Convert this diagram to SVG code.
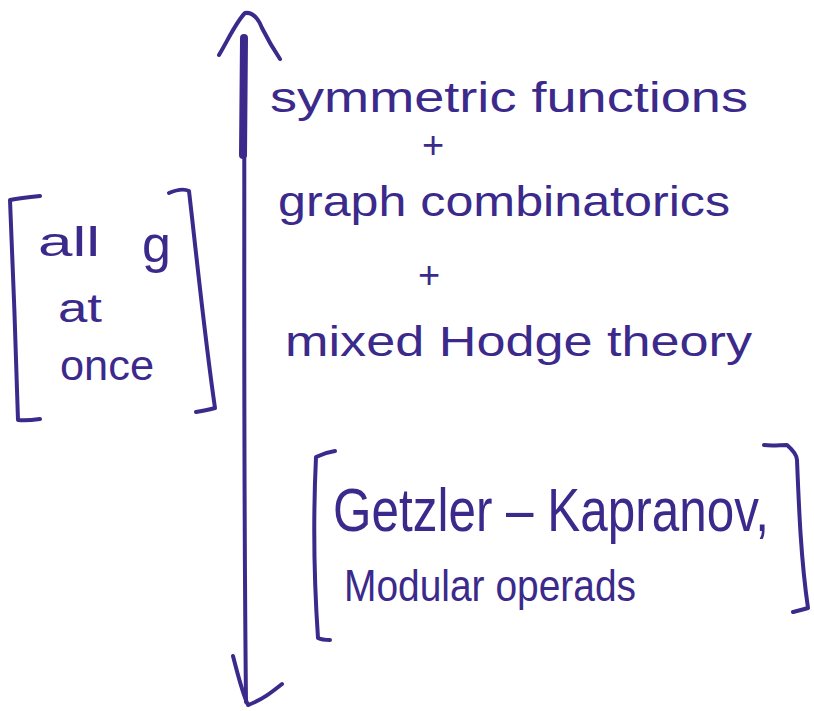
<svg xmlns="http://www.w3.org/2000/svg" width="814" height="711" viewBox="0 0 814 711">
  <style>
    .ink { fill: none; stroke: #3b2a8b; stroke-width: 4; stroke-linecap: round; stroke-linejoin: round; }
    .heavy { stroke-width: 8; }
    .t { fill: #3b2a8b; font-family: "Liberation Sans", "DejaVu Sans", sans-serif; }
  </style>
  <rect width="814" height="711" fill="#ffffff"/>

  <!-- double-headed vertical axis -->
  <g id="axis">
    <path class="ink" d="M244 40 C245 200 243 420 246 702"/>
    <path class="ink heavy" d="M244 38 L243 155"/>
    <path class="ink" d="M219 55 C228 40 236 22 245 13 C252 12 258 18 262 28 C268 40 274 50 280 59"/>
    <path class="ink" d="M233 656 C238 675 242 692 248 705 C262 700 272 692 282 684"/>
  </g>

  <!-- main stack of topics -->
  <g id="topics">
    <text class="t" x="270" y="112" font-size="42" textLength="478" lengthAdjust="spacingAndGlyphs">symmetric functions</text>
    <text class="t" x="422" y="158" font-size="38">+</text>
    <text class="t" x="278" y="216" font-size="42" textLength="452" lengthAdjust="spacingAndGlyphs">graph combinatorics</text>
    <text class="t" x="418" y="288" font-size="38">+</text>
    <text class="t" x="285" y="356" font-size="42" textLength="467" lengthAdjust="spacingAndGlyphs">mixed Hodge theory</text>
  </g>

  <!-- side note: all g at once -->
  <g id="note-all-g">
    <path class="ink" d="M40 196 C30 197 20 198 10 200 C13 270 16 350 18 420 C26 421 33 420 40 419"/>
    <path class="ink" d="M169 193 C176 190 183 188 189 191 C197 260 205 340 215 408 C208 410 202 411 196 412"/>
    <text class="t" x="38" y="256" font-size="40" textLength="62" lengthAdjust="spacingAndGlyphs">all</text>
    <text class="t" x="142" y="262" font-size="52">g</text>
    <text class="t" x="58" y="322" font-size="40" textLength="44" lengthAdjust="spacingAndGlyphs">at</text>
    <text class="t" x="60" y="380" font-size="42" textLength="94" lengthAdjust="spacingAndGlyphs">once</text>
  </g>

  <!-- reference note: Getzler–Kapranov -->
  <g id="note-gk">
    <path class="ink" d="M335 451 C328 452 322 454 316 457 C313 520 314 580 318 638 C322 640 326 640 330 640"/>
    <path class="ink" d="M764 445 C772 446 780 445 787 445 C795 452 797 456 797 460 C799 510 801 560 808 608 C802 610 797 611 793 612"/>
    <text class="t" x="333" y="531" font-size="62" textLength="436" lengthAdjust="spacingAndGlyphs">Getzler – Kapranov,</text>
    <text class="t" x="344" y="601" font-size="44" textLength="292" lengthAdjust="spacingAndGlyphs">Modular operads</text>
  </g>
</svg>
